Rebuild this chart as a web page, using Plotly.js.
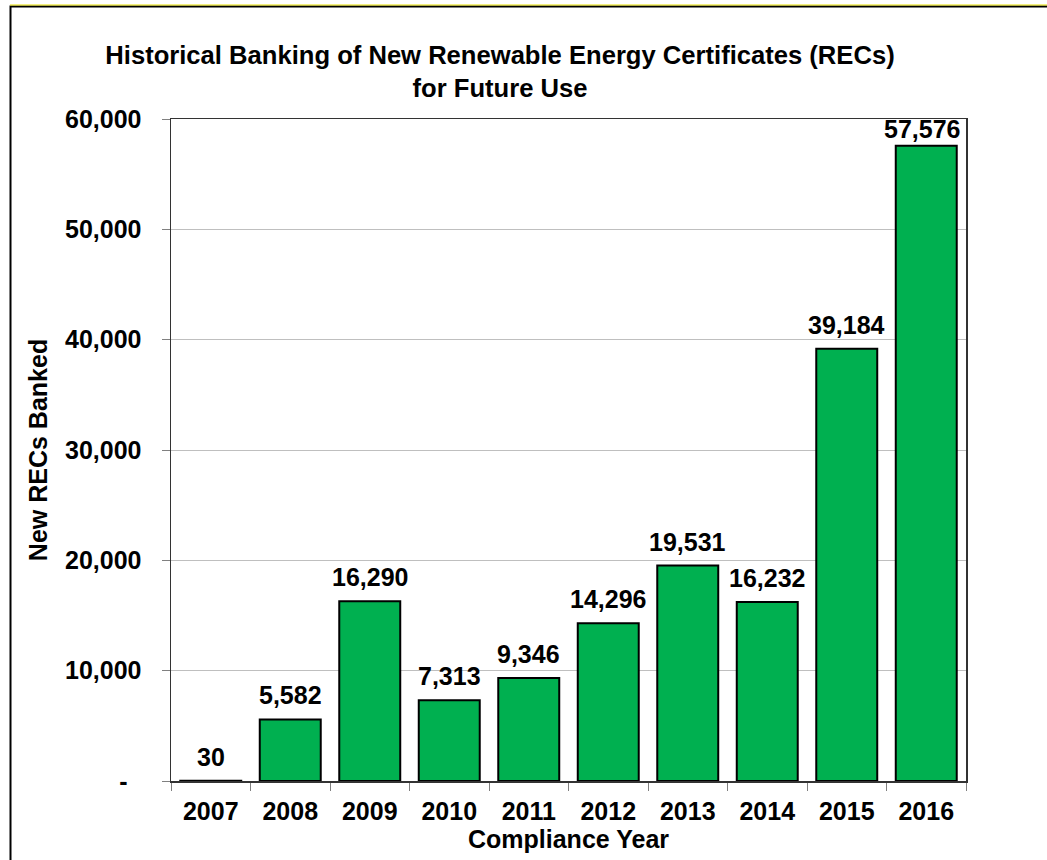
<!DOCTYPE html>
<html>
<head>
<meta charset="utf-8">
<script src="https://cdn.plot.ly/plotly-3.0.1.min.js"></script>
<style>html,body{margin:0;padding:0;background:#fff;}#chart{width:1047px;height:860px;}</style>
</head>
<body>
<div id="chart"></div>
<script>
const years = ['2007','2008','2009','2010','2011','2012','2013','2014','2015','2016'];
const recsBanked = [30, 5582, 16290, 7313, 9346, 14296, 19531, 16232, 39184, 57576];
const yTickVals = [0, 10000, 20000, 30000, 40000, 50000, 60000];
const yTickText = ['-\u00a0\u00a0', '10,000', '20,000', '30,000', '40,000', '50,000', '60,000'];
const chartTitle = 'Historical Banking of New Renewable Energy Certificates (RECs)<br>for Future Use';
const xTitle = 'Compliance Year';
const yTitle = 'New RECs Banked';

const FONT = "'Liberation Sans', Arial, sans-serif";
const W = 1047, H = 860;
const M = {l: 171, r: 81, t: 119, b: 79};
const pw = W - M.l - M.r, ph = H - M.t - M.b;
const px = x => (x - M.l) / pw;
const py = y => (H - M.b - y) / ph;
const yMax = 60000;

const trace = {
  type: 'bar',
  x: years,
  y: recsBanked,
  marker: {color: '#00B050', line: {color: '#000000', width: 2}},
  hoverinfo: 'x+y'
};

const annotations = years.map((yr, i) => ({
  x: i, y: recsBanked[i], xref: 'x', yref: 'y',
  text: recsBanked[i].toLocaleString('en-US'),
  showarrow: false, yanchor: 'bottom',
  yshift: recsBanked[i] > 0.9 * yMax ? 1 : 8,
  xshift: recsBanked[i] > 0.9 * yMax ? -4 : 0,
  font: {family: FONT, size: 25, color: '#000', weight: 'bold'}
}));

const layout = {
  width: W, height: H,
  margin: {l: M.l, r: M.r, t: M.t, b: M.b, pad: 0},
  paper_bgcolor: '#ffffff', plot_bgcolor: '#ffffff',
  showlegend: false,
  bargap: 0.233,
  font: {family: FONT, size: 25, color: '#000'},
  title: {
    text: chartTitle,
    x: 500 / W, xref: 'container', xanchor: 'center',
    y: 1 - 64 / H, yref: 'container', yanchor: 'top',
    font: {family: FONT, size: 25.6, color: '#000', weight: 'bold'}
  },
  xaxis: {
    type: 'category',
    tickson: 'boundaries',
    ticks: 'outside', ticklen: 8, tickcolor: '#808080', tickwidth: 1,
    ticklabelstandoff: 7,
    showline: true, linecolor: '#333333', linewidth: 1.5, mirror: true,
    showgrid: false,
    tickangle: 0,
    tickfont: {family: FONT, size: 25, color: '#000', weight: 'bold'},
    title: {text: xTitle, standoff: 0, font: {family: FONT, size: 25, color: '#000', weight: 'bold'}}
  },
  yaxis: {
    range: [0, yMax],
    tickvals: yTickVals, ticktext: yTickText,
    ticks: 'outside', ticklen: 8, tickcolor: '#808080', tickwidth: 1,
    ticklabelstandoff: 15,
    showline: true, linecolor: '#333333', linewidth: 1.5, mirror: true,
    showgrid: true, gridcolor: '#bfbfbf', gridwidth: 1,
    zeroline: false,
    tickfont: {family: FONT, size: 25, color: '#000', weight: 'bold'},
    title: {text: yTitle, standoff: 10, font: {family: FONT, size: 25, color: '#000', weight: 'bold'}}
  },
  annotations: annotations,
  shapes: [
    {type: 'rect', xref: 'paper', yref: 'paper',
     x0: px(10.5), x1: px(1070), y0: py(880), y1: py(6.5),
     line: {color: '#000000', width: 2}, fillcolor: 'rgba(0,0,0,0)', layer: 'above'},
    {type: 'line', xref: 'paper', yref: 'paper',
     x0: px(10), x1: px(1047), y0: py(5), y1: py(5),
     line: {color: '#e8e000', width: 1}, layer: 'above'}
  ]
};

Plotly.newPlot('chart', [trace], layout, {displayModeBar: false, staticPlot: true});
</script>
</body>
</html>
